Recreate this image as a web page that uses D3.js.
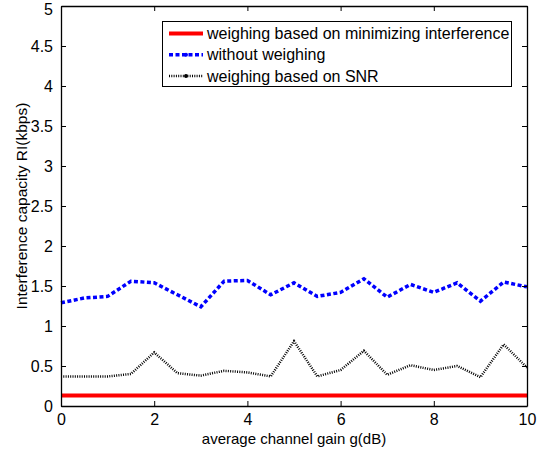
<!DOCTYPE html>
<html>
<head>
<meta charset="utf-8">
<script src="https://cdn.jsdelivr.net/npm/d3@7"></script>
<style>
  body { margin: 0; background: #fff; }
  svg { font-family: "Liberation Sans", Arial, sans-serif; }
</style>
</head>
<body>
<div id="chart"></div>
<script>
var gainDb = [0, 0.5, 1, 1.5, 2, 2.5, 3, 3.5, 4, 4.5, 5, 5.5, 6, 6.5, 7, 7.5, 8, 8.5, 9, 9.5, 10];
var minInterference = [0.13, 0.13, 0.13, 0.13, 0.13, 0.13, 0.13, 0.13, 0.13, 0.13, 0.13,
                       0.13, 0.13, 0.13, 0.13, 0.13, 0.13, 0.13, 0.13, 0.13, 0.13];
var noWeighing = [1.29, 1.35, 1.37, 1.56, 1.54, 1.39, 1.24, 1.56, 1.57, 1.39, 1.54,
                  1.37, 1.42, 1.59, 1.36, 1.52, 1.42, 1.54, 1.31, 1.55, 1.49];
var snrWeighing = [0.37, 0.37, 0.37, 0.40, 0.67, 0.41, 0.38, 0.44, 0.42, 0.37, 0.81,
                   0.37, 0.45, 0.69, 0.39, 0.51, 0.45, 0.50, 0.36, 0.77, 0.48];
var xTicks = [0, 2, 4, 6, 8, 10];
var yTicks = [0, 0.5, 1, 1.5, 2, 2.5, 3, 3.5, 4, 4.5, 5];
var seriesNames = ["weighing based on minimizing interference", "without weighing", "weighing based on SNR"];

var margin = {top: 6, right: 15, bottom: 44, left: 61},
    width = 542 - margin.left - margin.right,
    height = 450 - margin.top - margin.bottom;

var x = d3.scaleLinear().domain([0, 10]).range([0, width]);
var y = d3.scaleLinear().domain([0, 5]).range([height, 0]);

var svg = d3.select("#chart").append("svg")
    .attr("width", 542)
    .attr("height", 450);

var g = svg.append("g")
    .attr("transform", "translate(" + margin.left + "," + margin.top + ")");

var series = [
  {name: seriesNames[0], values: minInterference, color: "#ff0000", width: 4, dash: null},
  {name: seriesNames[1], values: noWeighing, color: "#0000ff", width: 3.5, dash: "4,2.5"},
  {name: seriesNames[2], values: snrWeighing, color: "#000000", width: 2.5, dash: "1,1.3"}
];

var line = d3.line()
    .x(function(d) { return x(d[0]); })
    .y(function(d) { return y(d[1]); });

series.forEach(function(s) {
  g.append("path")
    .datum(gainDb.map(function(v, i) { return [v, s.values[i]]; }))
    .attr("fill", "none")
    .attr("stroke", s.color)
    .attr("stroke-width", s.width)
    .attr("stroke-dasharray", s.dash)
    .attr("d", line);
});

// axes with inward ticks, box on all sides
var fmt = function(d) { return String(d); };
var xAxis = d3.axisBottom(x).tickValues(xTicks).tickSizeInner(-5).tickSizeOuter(0).tickPadding(8).tickFormat(fmt);
var yAxis = d3.axisLeft(y).tickValues(yTicks).tickSizeInner(-5).tickSizeOuter(0).tickPadding(8).tickFormat(fmt);

g.append("g").attr("class", "axis")
  .attr("transform", "translate(0," + height + ")")
  .call(xAxis);
var yG = g.append("g").attr("class", "axis")
  .call(yAxis);
g.append("g").attr("class", "axis")
  .call(d3.axisTop(x).tickValues(xTicks).tickSizeInner(-5).tickSizeOuter(0).tickFormat(""));
g.append("g").attr("class", "axis")
  .attr("transform", "translate(" + width + ",0)")
  .call(d3.axisRight(y).tickValues(yTicks).tickSizeInner(-5).tickSizeOuter(0).tickFormat(""));

g.selectAll(".axis path").attr("stroke", "#000").attr("stroke-width", 1.3);
g.selectAll(".axis line").attr("stroke", "#000");
g.selectAll(".axis text").attr("font-size", 16).attr("fill", "#000")
  .attr("font-family", "'Liberation Sans', Arial, sans-serif");
// top label sits a little lower so it is not clipped
yG.selectAll(".tick").filter(function(d) { return d === 5; })
  .select("text").attr("dy", "0.55em");

// labels
svg.append("text")
  .attr("x", margin.left + width / 2)
  .attr("y", 444)
  .attr("text-anchor", "middle")
  .attr("font-size", 15)
  .text("average channel gain g(dB)");

svg.append("text")
  .attr("transform", "translate(27," + (margin.top + height / 2) + ") rotate(-90)")
  .attr("text-anchor", "middle")
  .attr("font-size", 15.5)
  .text("Interference capacity RI(kbps)");

// legend
var legend = svg.append("g");
legend.append("rect")
  .attr("x", 162.5).attr("y", 21.5)
  .attr("width", 349).attr("height", 65)
  .attr("fill", "#fff").attr("stroke", "#000").attr("stroke-width", 1);

series.forEach(function(s, i) {
  var ly = 33.5 + i * 21.3;
  legend.append("line")
    .attr("x1", 169).attr("x2", 203).attr("y1", ly).attr("y2", ly)
    .attr("stroke", s.color)
    .attr("stroke-width", s.width)
    .attr("stroke-dasharray", s.dash);
  if (i > 0) {
    legend.append("circle")
      .attr("cx", 186).attr("cy", ly).attr("r", 2)
      .attr("fill", s.color);
  }
  legend.append("text")
    .attr("x", 207).attr("y", ly + 5.5)
    .attr("font-size", 16)
    .text(s.name);
});
</script>
</body>
</html>
